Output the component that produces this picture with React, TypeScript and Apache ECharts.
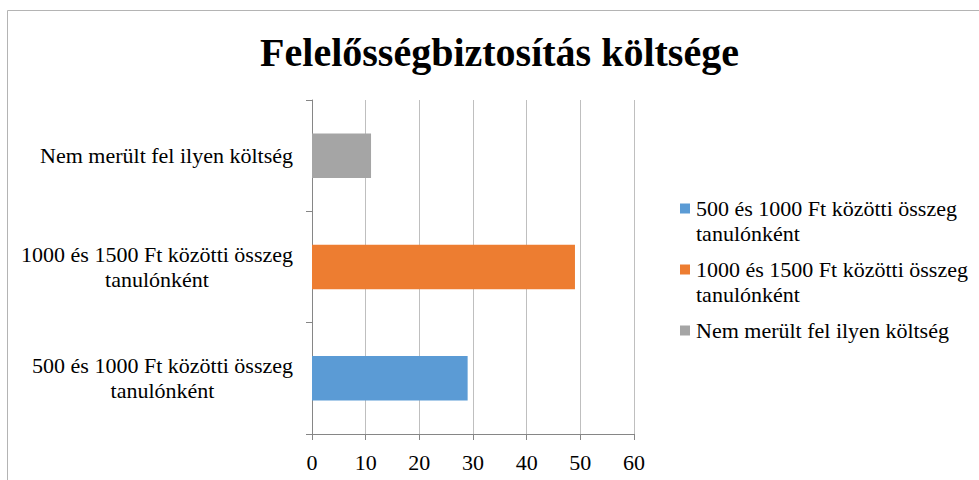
import React, { useEffect, useRef } from "react";
import * as echarts from "echarts";

const TITLE = "Felelősségbiztosítás költsége";
const categories = [
  "500 és 1000 Ft közötti összeg\ntanulónként",
  "1000 és 1500 Ft közötti összeg\ntanulónként",
  "Nem merült fel ilyen költség",
];
const values = [29, 49, 11];
const colors = ["#5B9BD5", "#ED7D31", "#A5A5A5"];
const xTicks = { min: 0, max: 60, interval: 10 };

const FONT = "Liberation Serif";

export default function App() {
  const ref = useRef<HTMLDivElement>(null);
  useEffect(() => {
    if (!ref.current) return;
    const chart = echarts.init(ref.current, null, { renderer: "svg" });
    const legendRich: Record<string, any> = {
      sp: { width: 6, height: 10 },
      ind: { width: 16, height: 10 },
      t: { fontFamily: FONT, fontSize: 22, fontWeight: "normal", color: "#000", lineHeight: 25 },
    };
    colors.forEach((c, i) => {
      legendRich["m" + i] = { width: 10, height: 10, backgroundColor: c };
    });
    const names = categories.map((c) => c.replace("\n", " "));
    chart.setOption({
      animation: false,
      textStyle: { fontFamily: FONT },
      title: {
        text: TITLE,
        left: 499.5,
        top: 32,
        textAlign: "center",
        padding: 0,
        textStyle: { fontFamily: FONT, fontSize: 40, fontWeight: "bold", color: "#000" },
      },
      graphic: [
        {
          type: "polyline",
          shape: { points: [[7.5, 480], [7.5, 10.5], [979, 10.5]] },
          style: { fill: "none", stroke: "#b4b4b4", lineWidth: 1 },
          silent: true,
        },
      ],
      legend: {
        orient: "vertical",
        left: 675,
        top: 196,
        padding: 0,
        itemWidth: 0,
        itemHeight: 0,
        itemGap: 11,
        icon: "rect",
        data: names,
        formatter: (name: string) => {
          const i = names.indexOf(name);
          const lines = categories[i].split("\n");
          return lines
            .map((l, k) => (k === 0 ? `{m${i}|}{sp|}{t|${l}}` : `{ind|}{t|${l}}`))
            .join("\n");
        },
        textStyle: { fontFamily: FONT, fontSize: 22, fontWeight: "normal", color: "#000", lineHeight: 25, rich: legendRich },
      },
      grid: { left: 312, right: 345, top: 100, bottom: 46, containLabel: false },
      xAxis: {
        type: "value",
        min: xTicks.min,
        max: xTicks.max,
        interval: xTicks.interval,
        axisLine: { show: true, lineStyle: { color: "#868686", width: 1 } },
        axisTick: { show: true, length: 6, lineStyle: { color: "#868686" } },
        axisLabel: { margin: 17, fontFamily: FONT, fontSize: 22, fontWeight: "normal", color: "#000" },
        splitLine: { show: true, lineStyle: { color: "#bfbfbf", width: 1 } },
      },
      yAxis: {
        type: "category",
        data: categories,
        axisLine: { show: true, lineStyle: { color: "#868686", width: 1 } },
        axisTick: { show: true, length: 6, lineStyle: { color: "#868686" } },
        axisLabel: {
          margin: 19,
          fontFamily: FONT,
          fontSize: 22,
          fontWeight: "normal",
          color: "#000",
          lineHeight: 25,
          formatter: (v: string) =>
            v
              .split("\n")
              .map((l) => `{c|${l}}`)
              .join("\n"),
          rich: {
            c: { align: "center", fontFamily: FONT, fontSize: 22, fontWeight: "normal", color: "#000", lineHeight: 25 },
          },
        },
        splitLine: { show: false },
      },
      series: names.map((n, i) => ({
        name: n,
        type: "bar",
        stack: "all",
        barWidth: "40%",
        itemStyle: { color: colors[i] },
        data: categories.map((_, j) => (j === i ? values[i] : "-")),
      })),
    });
    return () => chart.dispose();
  }, []);
  return (
    <div
      ref={ref}
      style={{ position: "absolute", left: 0, top: 0, width: 979, height: 480, background: "#fff" }}
    />
  );
}
